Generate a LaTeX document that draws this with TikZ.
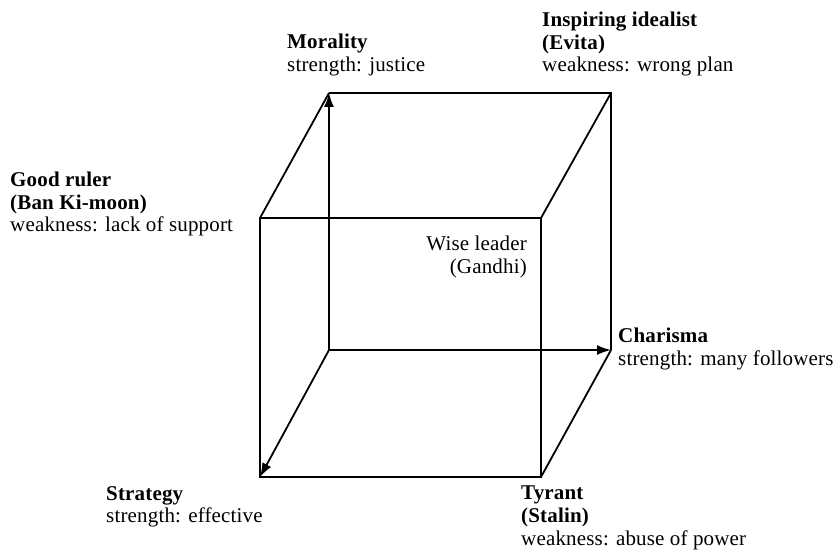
\documentclass[tikz,border=0pt]{standalone}
\usepackage{fontspec}
\setmainfont{Liberation Serif}[LetterSpace=0.8]
\usetikzlibrary{arrows.meta}
\begin{document}
\begin{tikzpicture}[x=1pt,y=-1pt,
  edge/.style={line width=1.8pt},
  axis/.style={line width=1.8pt,-{Latex[length=14pt,width=10pt]}},
  lbl/.style={inner sep=0pt,align=left,anchor=north west,
    font=\fontsize{21}{22.6}\selectfont},
  lblr/.style={lbl,align=right,anchor=north east}]
\useasboundingbox (0,0) rectangle (835,559);
% cube corners: back face
\coordinate (O) at (329,350);
\coordinate (A) at (329,93);
\coordinate (B) at (611,93);
\coordinate (C) at (611,350);
% cube corners: front face
\coordinate (E) at (260,218);
\coordinate (F) at (541,218);
\coordinate (G) at (541,477);
\coordinate (H) at (260,477);
% edges
\draw[edge] (A) -- (B) -- (C);
\draw[edge] (A) -- (E);
\draw[edge] (B) -- (F);
\draw[edge] (C) -- (G);
\draw[edge] (E) -- (F) -- (G) -- (H) -- cycle;
% axes from the hidden corner
\draw[axis] (O) -- (A);
\draw[axis] (O) -- (C);
\draw[axis] (O) -- (H);
% labels
\node[lbl] (morality) at (287,34) {\textbf{Morality}\\strength: justice};
\node[lbl] (idealist) at (542,12) {\textbf{Inspiring idealist}\\\textbf{(Evita)}\\weakness: wrong plan};
\node[lbl] (ruler) at (10,172) {\textbf{Good ruler}\\\textbf{(Ban Ki-moon)}\\weakness: lack of support};
\node[lblr] (wise) at (527,236) {Wise leader\\(Gandhi)};
\node[lbl] (charisma) at (618,328) {\textbf{Charisma}\\strength: many followers};
\node[lbl] (strategy) at (106,486) {\textbf{Strategy}\\strength: effective};
\node[lbl] (tyrant) at (521,486) {\textbf{Tyrant}\\\textbf{(Stalin)}\\weakness: abuse of power};
\end{tikzpicture}
\end{document}
